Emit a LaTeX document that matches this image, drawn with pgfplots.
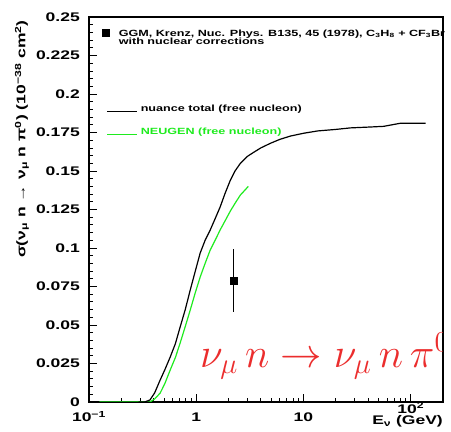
\documentclass[border=0pt]{standalone}
\usepackage{fontspec}
\setmainfont{Liberation Sans}
\newfontfamily\rootfont{Liberation Sans}[FakeStretch=1.4]
\usepackage{graphicx}
\usepackage{pgfplots}
\usepackage{pgfplotstable}
\pgfplotsset{compat=1.18}

\definecolor{neugen}{RGB}{30,235,30}
\definecolor{labelred}{RGB}{235,45,45}

\newcommand\tickfont{\rootfont\bfseries\fontsize{12.5}{14}\selectfont}
\newcommand\legfont{\rootfont\bfseries\fontsize{9}{10}\selectfont}
% row struts for the legend: height 7pt, depth 2pt
\newcommand\legstrut{\rule[-2pt]{0pt}{9pt}}

\pgfplotsset{
  legline/.style={legend image code/.code={\draw[##1] (5pt,-2.5pt) -- (35pt,-2.5pt);}},
  legsquare/.style={legend image code/.code={\fill[##1] (0pt,-3pt) rectangle (7pt,4pt);}},
}

% nuance total cross section, free nucleon
\pgfplotstableread{
E      sigma
0.29   0
0.33   0
0.37   0.0013
0.41   0.006
0.461  0.0143
0.51   0.021
0.572  0.0292
0.64   0.038
0.708  0.0487
0.79   0.060
0.879  0.0727
0.98   0.085
1.089  0.0968
1.21   0.105
1.35   0.1117
1.5    0.119
1.67   0.1266
1.87   0.136
2.08   0.144
2.3    0.150
2.58   0.155
3.0    0.1595
3.41   0.162
4.0    0.165
4.92   0.168
6.0    0.1705
7.57   0.1727
10     0.1745
13.5   0.176
20     0.177
27.5   0.178
40     0.1785
56     0.179
80     0.181
138    0.181
}\nuancetab

% NEUGEN, free nucleon
\pgfplotstableread{
E      sigma
0.125  0
0.37   0
0.41   0.002
0.461  0.0058
0.51   0.012
0.572  0.0208
0.64   0.029
0.708  0.0383
0.79   0.049
0.879  0.0597
0.98   0.071
1.089  0.0812
1.21   0.090
1.35   0.0987
1.5    0.105
1.67   0.1117
1.87   0.118
2.08   0.124
2.3    0.129
2.58   0.1344
3.06   0.140
}\neugentab

\begin{document}
\begin{tikzpicture}
\begin{axis}[
  scale only axis, width=354pt, height=385pt,
  xmode=log, xmin=0.1, xmax=200, ymin=0, ymax=0.25,
  axis line style={line width=1.2pt},
  tick align=inside, xtick pos=lower, ytick pos=left,
  major tick length=8pt, minor tick length=4pt,
  every tick/.style={black, line width=0.8pt},
  xtick={0.1,1,10,100},
  xticklabels={10\textsuperscript{−1},1,10,\raisebox{9pt}{10\textsuperscript{2}}},
  ytick={0,0.025,0.05,0.075,0.1,0.125,0.15,0.175,0.2,0.225,0.25},
  yticklabels={0,0.025,0.05,0.075,0.1,0.125,0.15,0.175,0.2,0.225,0.25},
  minor y tick num=4,
  tick label style={font=\tickfont},
  yticklabel style={inner sep=0pt, xshift=-9pt},
  xticklabel style={inner sep=0pt, anchor=base, yshift=-20pt},
  every axis y label/.style={at={(rel axis cs:-0.1893,0.992)}, rotate=90,
    anchor=east, inner sep=0pt, font=\tickfont},
  every axis x label/.style={at={(rel axis cs:1,0)}, anchor=north east,
    yshift=-13pt, inner sep=0pt, font=\tickfont},
  ylabel={σ(ν\textsubscript{μ} n → ν\textsubscript{μ} n π\textsuperscript{0}) (10\textsuperscript{−38} cm\textsuperscript{2})},
  xlabel={E\textsubscript{ν} (GeV)},
  legend cell align=left,
  legend style={at={(rel axis cs:0,1)}, anchor=north west,
    xshift=13pt, yshift=-12pt, draw=none, fill=none,
    inner sep=0pt, outer sep=0pt, row sep=0pt, font=\legfont,
    nodes={inner sep=0pt},
    /tikz/every odd column/.append style={column sep=3pt}},
]
% legend entries (empty rows only set the spacing)
\addlegendimage{black, legsquare}
\addlegendentry{\hspace*{-22pt}GGM, Krenz, Nuc. Phys. B135, 45 (1978), C\textsubscript{3}H\textsubscript{8} + CF\textsubscript{3}Br\legstrut}
\addlegendimage{empty legend}
\addlegendentry{\hspace*{-22pt}with nuclear corrections\legstrut}
\addlegendimage{empty legend}
\addlegendentry{\rule{0pt}{57pt}}
\addlegendimage{black, line width=1.2pt, legline}
\addlegendentry{nuance total (free nucleon)\legstrut}
\addlegendimage{empty legend}
\addlegendentry{\rule{0pt}{13pt}}
\addlegendimage{neugen, line width=1.2pt, legline}
\addlegendentry[text=neugen]{NEUGEN (free nucleon)\legstrut}

% curves
\addplot[neugen, line width=1.2pt, forget plot] table[x=E, y=sigma] {\neugentab};
\addplot[black, line width=1.2pt, forget plot] table[x=E, y=sigma] {\nuancetab};
% GGM measurement
\addplot[black, only marks, mark=square*, mark size=3.5pt, forget plot,
  error bars/.cd, y dir=both, y explicit, error mark=none,
  error bar style={line width=1.5pt}]
  coordinates {(2.22,0.079) +- (0,0.0205)};

\node[anchor=base west, inner sep=0pt, text=labelred]
  at (rel axis cs:0.3136,0.0909)
  {\scalebox{2}{\huge $\nu_\mu\, n \rightarrow \nu_\mu\, n\, \pi^0$}};
\end{axis}
\pgfresetboundingbox
\path (-89pt,-30pt) rectangle (362pt,402pt);
\end{tikzpicture}
\end{document}
